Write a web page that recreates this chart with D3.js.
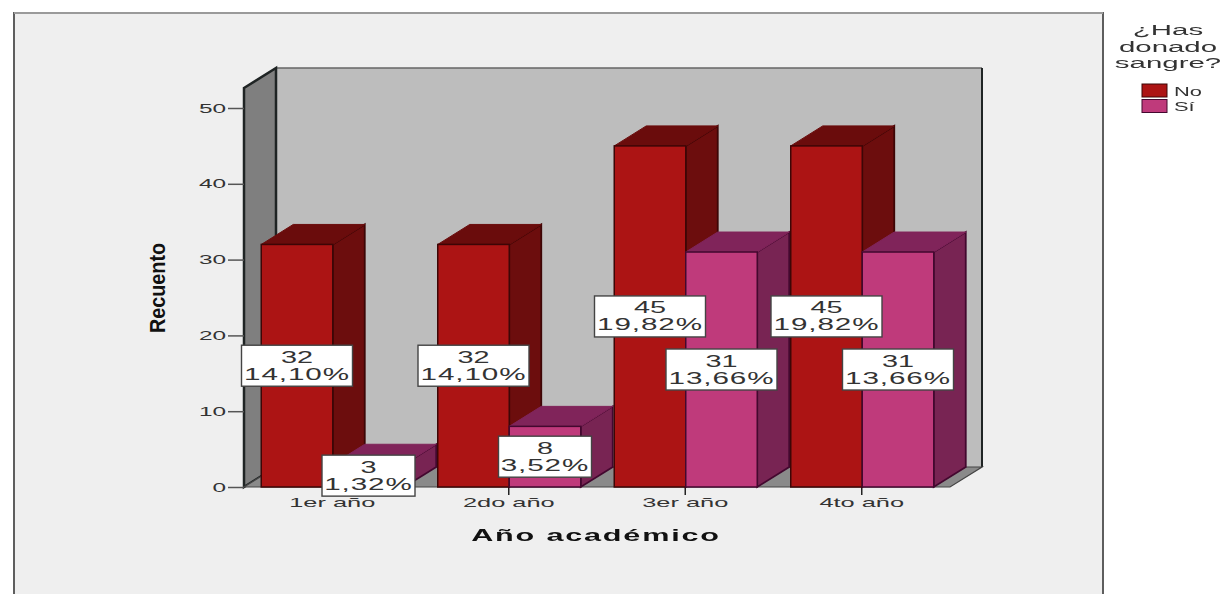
<!DOCTYPE html>
<html><head><meta charset="utf-8">
<script src="https://cdn.jsdelivr.net/npm/d3@7"></script>
<style>html,body{margin:0;padding:0;background:#fff;overflow:hidden}svg{display:block;filter:blur(0.55px)}text{font-family:"Liberation Sans",Arial,sans-serif}</style>
</head><body><svg id="c" width="1226" height="594"></svg>
<script>
const categories = ["1er año","2do año","3er año","4to año"];
const seriesNames = ["No","Sí"];
const noValues = [32,32,45,45];
const siValues = [3,8,31,31];
const noPercents = ["14,10%","14,10%","19,82%","19,82%"];
const siPercents = ["1,32%","3,52%","13,66%","13,66%"];
const yTicks = [0,10,20,30,40,50];
const legendTitle = ["¿Has","donado","sangre?"];

const svg = d3.select("#c");
const depthX = 32, depthY = -20;
const x = d3.scaleBand().domain(categories).range([244,950]);
const inner = d3.scaleBand().domain(seriesNames).range([x.bandwidth()/2-71, x.bandwidth()/2+72]);
const y = d3.scaleLinear().domain([0,50]).range([487,108]);
const frontTop = y(50)-20, yBase = y(0);
const backTop = frontTop+depthY, backBase = yBase+depthY;
const [xL,xR] = x.range();
const pts = a => a.map(p=>p.join(",")).join(" ");

function stretched(sel, sx){ sel.each(function(){ const w=this.getComputedTextLength(); d3.select(this).attr("textLength",w*sx).attr("lengthAdjust","spacingAndGlyphs"); }); return sel; }

// panel
svg.append("rect").attr("x",14).attr("y",13).attr("width",1089).attr("height",600)
  .attr("fill","#efefef").attr("stroke","#5e5e5e").attr("stroke-width",2);
svg.append("line").attr("x1",14).attr("x2",1103).attr("y1",13).attr("y2",13).attr("stroke","#9a9a9a").attr("stroke-width",2);

// walls
const wallStroke="#1f2424";
svg.append("rect").attr("x",xL+depthX).attr("y",backTop).attr("width",xR-xL).attr("height",backBase-backTop)
  .attr("fill","#bdbdbd");
svg.append("line").attr("x1",xL+depthX).attr("x2",xR+depthX).attr("y1",backTop).attr("y2",backTop).attr("stroke","#666").attr("stroke-width",1.5);
svg.append("line").attr("x1",xR+depthX).attr("x2",xR+depthX).attr("y1",backTop).attr("y2",backBase).attr("stroke",wallStroke).attr("stroke-width",2);
svg.append("polygon").attr("points",pts([[xL,frontTop],[xL+depthX,backTop],[xL+depthX,backBase],[xL,yBase]]))
  .attr("fill","#7f7f7f").attr("stroke",wallStroke).attr("stroke-width",2.5);
svg.append("polygon").attr("points",pts([[xL,yBase],[xL+depthX,backBase],[xR+depthX,backBase],[xR,yBase]]))
  .attr("fill","#8a8a8a").attr("stroke","#444").attr("stroke-width",1.2);

// axes
const yAxis = d3.axisLeft(y).tickValues(yTicks).tickSize(16).tickPadding(2);
const yg = svg.append("g").attr("transform",`translate(${xL},0)`).call(yAxis);
yg.select(".domain").remove();
yg.selectAll("line").attr("stroke","#555").attr("stroke-width",1.5);
yg.selectAll("text").attr("fill","#333").attr("font-size",12.5).call(stretched,1.95);
const xAxis = d3.axisBottom(x).tickSize(8).tickPadding(3);
const xg = svg.append("g").attr("transform",`translate(0,${yBase})`).call(xAxis);
xg.select(".domain").remove();
xg.selectAll("line").attr("stroke","#222").attr("stroke-width",1.5);
xg.selectAll("text").attr("fill","#333").attr("font-size",13).call(stretched,1.95);

// bars
const colors = {
  "No":{front:"#ac1414",side:"#6c0d0d",top:"#6a0c0c",edge:"#3d0606"},
  "Sí":{front:"#bf3a7b",side:"#782453",top:"#80245a",edge:"#43082f"}
};
const rows = categories.flatMap((c,i)=>[
  {c,s:"No",v:noValues[i],p:noPercents[i]},
  {c,s:"Sí",v:siValues[i],p:siPercents[i]}
]);
svg.append("g").selectAll("g").data(rows).join("g").each(function(d){
  const g=d3.select(this), col=colors[d.s];
  const x0=x(d.c)+inner(d.s), x1=x0+inner.bandwidth(), t=y(d.v), b=yBase;
  g.append("polygon").attr("points",pts([[x1,t],[x1+depthX,t+depthY],[x1+depthX,b+depthY],[x1,b]]))
    .attr("fill",col.side).attr("stroke",col.edge).attr("stroke-width",1.8);
  g.append("polygon").attr("points",pts([[x0,t],[x0+depthX,t+depthY],[x1+depthX,t+depthY],[x1,t]]))
    .attr("fill",col.top).attr("stroke",col.top).attr("stroke-width",1);
  g.append("rect").attr("x",x0).attr("y",t).attr("width",x1-x0).attr("height",b-t)
    .attr("fill",col.front).attr("stroke",col.edge).attr("stroke-width",1.5);
});

// value labels
svg.append("g").selectAll("g").data(rows).join("g").each(function(d){
  const g=d3.select(this);
  const cx=x(d.c)+inner(d.s)+inner.bandwidth()/2, cy=y(d.v/2);
  const w = d.p.length>5 ? 111 : 93, h=41;
  g.append("rect").attr("x",cx-w/2).attr("y",cy-h/2).attr("width",w).attr("height",h)
    .attr("fill","#fff").attr("stroke","#444").attr("stroke-width",1.4);
  g.append("text").attr("x",cx).attr("y",cy-3).attr("text-anchor","middle").attr("font-size",16).attr("fill","#333").text(d.v).call(stretched,1.8);
  g.append("text").attr("x",cx).attr("y",cy+14).attr("text-anchor","middle").attr("font-size",16).attr("fill","#333").attr("letter-spacing",0.5).text(d.p).call(stretched,1.85);
});

// titles
svg.append("text").attr("transform",`translate(165,288) rotate(-90)`).attr("text-anchor","middle")
  .attr("font-size",22).attr("font-weight","bold").attr("fill","#111").text("Recuento").call(stretched,0.9);
svg.append("text").attr("x",596).attr("y",541).attr("text-anchor","middle")
  .attr("font-size",17).attr("font-weight","bold").attr("fill","#111").attr("letter-spacing",1).text("Año académico").call(stretched,1.8);

// legend
svg.append("g").selectAll("text").data(legendTitle).join("text")
  .attr("x",1168).attr("y",(d,i)=>35+i*16.5).attr("text-anchor","middle").attr("font-size",14).attr("fill","#333").text(d=>d).call(stretched,2.1);
const lg = svg.append("g").selectAll("g").data(seriesNames).join("g").attr("transform",(d,i)=>`translate(1142,${84+i*15.5})`);
lg.append("rect").attr("width",25).attr("height",13).attr("fill",d=>colors[d].front).attr("stroke",d=>colors[d].edge).attr("stroke-width",1);
lg.append("text").attr("x",32).attr("y",11.5).attr("font-size",12.5).attr("fill","#333").text(d=>d).call(stretched,1.75);
</script></body></html>
